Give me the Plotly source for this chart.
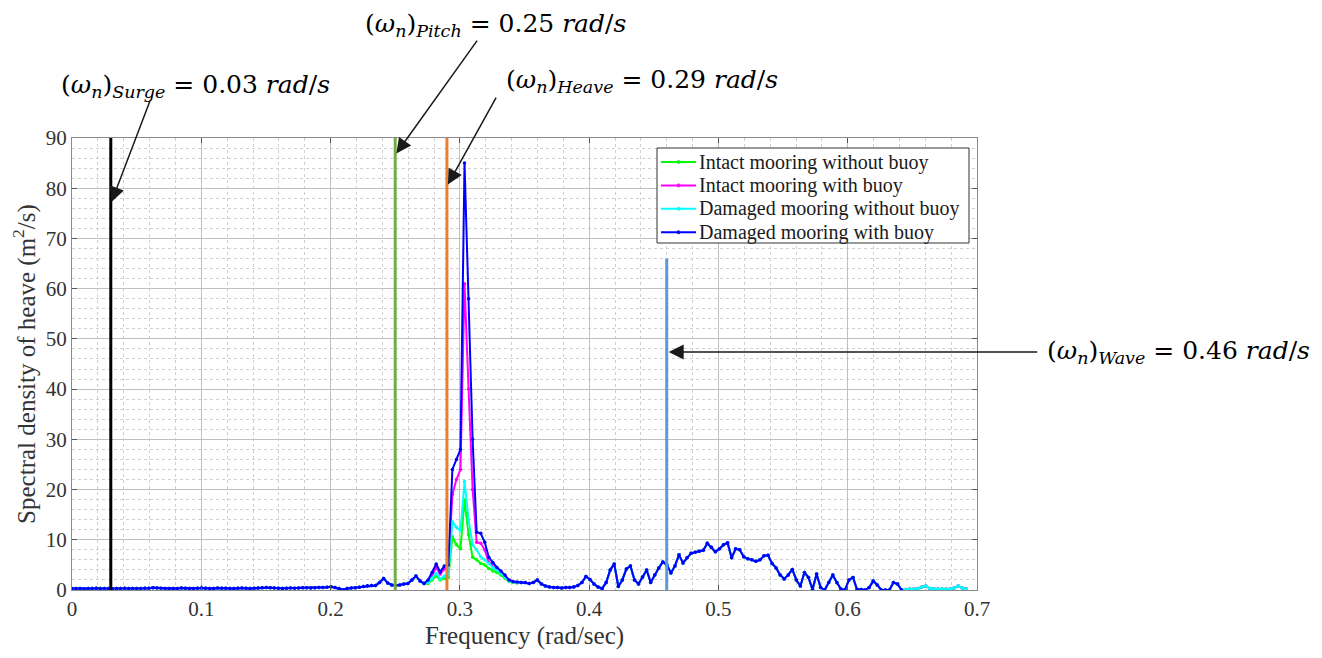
import plotly.graph_objects as go

# ---------------- data ----------------
FREQ_STEP = 0.00313  # rad/s, frequency resolution of the spectra

# common low-frequency part (all four cases coincide)
low_shared = [
    0.3, 0.3, 0.3, 0.25, 0.3, 0.3, 0.35, 0.3, 0.3, 0.3,
    0.25, 0.3, 0.3, 0.35, 0.3, 0.3, 0.3, 0.3, 0.35, 0.35,
    0.45, 0.4, 0.35, 0.3, 0.3, 0.3, 0.3, 0.4, 0.35, 0.3,
    0.3, 0.35, 0.4, 0.35, 0.3, 0.3, 0.4, 0.35, 0.35, 0.3,
    0.3, 0.35, 0.4, 0.35, 0.3, 0.35, 0.4, 0.45, 0.5, 0.45,
    0.4, 0.35, 0.3, 0.35, 0.4, 0.35, 0.4, 0.45, 0.45, 0.4,
    0.45, 0.5, 0.5, 0.55, 0.65, 0.5, 0.3, 0.05, 0.3, 0.4,
    0.45, 0.55, 0.7, 0.85, 0.9, 0.9, 1.5, 2.3, 1.4, 1.0,
    0.9, 1.0, 1.2, 1.3, 2.0, 2.8, 1.8, 1.3,
]

# heave resonance region (differs per case)
peak_intact_no_buoy = [1.3, 2.0, 2.8, 2.0, 2.3, 2.5, 10.6, 9.0, 8.2, 17.9, 11.0, 6.5,
                       6.0, 5.3, 5.0, 4.3, 3.8, 3.5, 3.0, 2.4, 1.7, 1.5, 1.4]
peak_intact_buoy = [1.8, 3.0, 4.5, 3.2, 4.2, 4.5, 19.0, 22.0, 24.0, 61.0, 40.0, 20.0,
                    9.5, 9.3, 8.0, 5.5, 5.0, 4.2, 3.6, 2.8, 1.9, 1.6, 1.5]
peak_damaged_no_buoy = [1.5, 2.3, 3.3, 2.2, 2.8, 3.0, 13.6, 12.5, 11.8, 21.6, 14.0, 9.0,
                        8.0, 6.6, 6.0, 5.3, 4.5, 4.0, 3.4, 2.6, 1.8, 1.6, 1.5]
peak_damaged_buoy = [2.0, 3.5, 5.2, 3.6, 4.8, 5.0, 24.0, 26.0, 28.0, 85.0, 58.0, 30.0,
                     11.5, 11.3, 9.5, 6.5, 5.5, 4.5, 3.8, 3.0, 2.0, 1.7, 1.6]

# common wave-frequency part
high_shared = [
    1.5, 1.5, 1.3, 1.5, 2.0, 1.2, 0.8, 0.6, 0.5, 0.5,
    0.4, 0.5, 0.5, 0.6, 0.9, 1.5, 2.7, 2.1, 1.2, 0.6,
    0.3, 1.5, 4.0, 5.2, 0.7, 2.0, 4.2, 4.8, 2.0, 1.2,
    2.6, 4.0, 1.5, 3.0, 4.4, 5.6, 5.0, 3.4, 4.8, 7.0,
    5.4, 6.4, 7.3, 7.5, 7.7, 7.9, 9.3, 8.5, 7.6, 8.2,
    9.0, 9.4, 6.4, 8.2, 8.0, 6.6, 6.2, 6.0, 5.7, 6.0,
    6.8, 6.9, 5.3, 4.4, 3.0, 2.2, 3.0, 4.1, 2.0, 0.8,
    3.5, 2.5, 0.1, 3.2, 0.5, 0.0, 1.5, 3.0, 1.5, 0.2,
    0.0, 2.0, 2.5, 0.1, 0.1, 0.0, 0.5, 1.8, 1.0, 0.0,
    0.0, 0.0, 1.5, 1.2, 0.0,
]

# high-frequency tail (cases without the blue curve on top)
tail_shared = [0.1, 0.2, 0.2, 0.3, 0.6, 0.8, 0.3, 0.2, 0.2, 0.2, 0.2, 0.2, 0.4, 0.8, 0.4, 0.2]

series_names = ["Intact mooring without buoy", "Intact mooring with buoy",
                "Damaged mooring without buoy", "Damaged mooring with buoy"]
series_colors = ["#00FF00", "#FF00FF", "#00FFFF", "#0000FF"]
series_values = [
    low_shared + peak_intact_no_buoy + high_shared + tail_shared,
    low_shared + peak_intact_buoy + high_shared + tail_shared,
    low_shared + peak_damaged_no_buoy + high_shared + tail_shared,
    low_shared + peak_damaged_buoy + high_shared,
]

# natural frequencies marked on the chart
mode_names = ["Surge", "Pitch", "Heave", "Wave"]
mode_freqs = [0.03, 0.25, 0.29, 0.46]
mode_line_tops = [90, 90, 90, 66]
mode_colors = ["#000000", "#70AD47", "#ED7D31", "#5B9BD5"]

x_ticks = [0, 0.1, 0.2, 0.3, 0.4, 0.5, 0.6, 0.7]
y_ticks = [0, 10, 20, 30, 40, 50, 60, 70, 80, 90]

# ---------------- figure ----------------
SERIF = "Liberation Serif, Times New Roman, serif"
MATH = "DejaVu Serif, serif"
fig = go.Figure()

for name, color, vals in zip(series_names, series_colors, series_values):
    freqs = [round(i * FREQ_STEP, 6) for i in range(len(vals))]
    fig.add_trace(go.Scatter(
        x=freqs, y=vals, name=name, mode="lines+markers",
        line=dict(color=color, width=2),
        marker=dict(color=color, size=3.5),
    ))

for f, top, c in zip(mode_freqs, mode_line_tops, mode_colors):
    fig.add_trace(go.Scatter(
        x=[f, f], y=[0, top], mode="lines", showlegend=False,
        hoverinfo="skip", line=dict(color=c, width=3),
    ))

# ---- plot-area geometry in pixels (for placing overlay items) ----
L, R, T, B = 64, 353, 130, 76
W, H = 1322, 658
PW, PH = W - L - R, H - T - B
PX0, PY0 = L + 8, T + 8          # page offset of the plot area (body margin)


def paper_x(px):
    return (px - PX0) / PW


def paper_y(py):
    return (PY0 + PH - py) / PH


# label texts
label_pos = {  # pixel centres of the labels
    "Surge": (195, 86),
    "Pitch": (495, 25),
    "Heave": (642, 81),
    "Wave": (1178, 352),
}
arrow_spec = {  # arrow head y (data) and tail offset (px)
    "Surge": (76.9, 40, -105),
    "Pitch": (86.6, 83, -116),
    "Heave": (80.4, 50, -90),
    "Wave": (47.4, 372, 0),
}
NB = "\u00a0"
for name, f in zip(mode_names, mode_freqs):
    cx, cy = label_pos[name]
    fig.add_annotation(
        xref="paper", yref="paper", x=paper_x(cx), y=paper_y(cy), showarrow=False,
        xanchor="center", yanchor="middle",
        text=(f"(<i>ω</i><sub><i>n</i></sub>)<sub><i>{name}</i></sub>{NB}={NB}{f:.2f}{NB}"
              f"<i>rad</i>/<i>s</i>"),
        font=dict(family=MATH, size=25, color="#000000"),
    )
    hy, ax, ay = arrow_spec[name]
    fig.add_annotation(
        xref="x", yref="y", x=f, y=hy, text="", showarrow=True,
        ax=ax, ay=ay, axref="pixel", ayref="pixel",
        arrowhead=2, arrowsize=2, arrowwidth=1.5, arrowcolor="#1a1a1a",
        standoff=2,
    )

# ---- legend box drawn to match the reference spacing ----
LG_LEFT, LG_RIGHT, LG_TOP, LG_BOTTOM = 657, 969, 148, 243
fig.add_shape(type="rect", xref="paper", yref="paper",
              x0=paper_x(LG_LEFT), x1=paper_x(LG_RIGHT),
              y0=paper_y(LG_BOTTOM), y1=paper_y(LG_TOP),
              line=dict(color="#333333", width=1), fillcolor="white", layer="above")
for k, (name, color) in enumerate(zip(series_names, series_colors)):
    cy = 162 + 23.4 * k
    fig.add_shape(type="line", xref="paper", yref="paper",
                  x0=paper_x(661), x1=paper_x(696), y0=paper_y(cy), y1=paper_y(cy),
                  line=dict(color=color, width=2), layer="above")
    fig.add_shape(type="circle", xref="paper", yref="paper",
                  x0=paper_x(677), x1=paper_x(680), y0=paper_y(cy + 1.5), y1=paper_y(cy - 1.5),
                  line=dict(color=color, width=1), fillcolor=color, layer="above")
    fig.add_annotation(xref="paper", yref="paper", x=paper_x(697), y=paper_y(cy),
                       xanchor="left", yanchor="middle", showarrow=False, text=name,
                       font=dict(family=SERIF, size=20, color="#1a1a1a"))

axis_common = dict(
    showline=True, linecolor="#8a8a8a", linewidth=1, mirror="ticks",
    ticks="inside", ticklen=5, tickcolor="#555555",
    showgrid=True, gridcolor="#c0c0c0", gridwidth=1, zeroline=False,
    tickfont=dict(family=SERIF, size=21, color="#333333"),
)

fig.update_xaxes(
    range=[0, 0.7], tickvals=x_ticks, ticktext=[f"{v:g}" for v in x_ticks],
    minor=dict(dtick=0.02, showgrid=True, griddash="dot", gridcolor="#d0d0d0", ticks=""),
    title=dict(text="Frequency (rad/sec)", font=dict(family=SERIF, size=25, color="#333333"), standoff=6),
    **axis_common,
)
fig.update_yaxes(
    range=[0, 90], tickvals=y_ticks,
    minor=dict(dtick=2, showgrid=True, griddash="dot", gridcolor="#d0d0d0", ticks=""),
    title=dict(text="Spectral density of heave (m<sup>2</sup>/s)", font=dict(family=SERIF, size=25, color="#333333"), standoff=4),
    **axis_common,
)

fig.update_layout(
    width=W, height=H,
    margin=dict(l=L, r=R, t=T, b=B),
    paper_bgcolor="white", plot_bgcolor="white",
    showlegend=False,
)

fig.write_html("out.html")
